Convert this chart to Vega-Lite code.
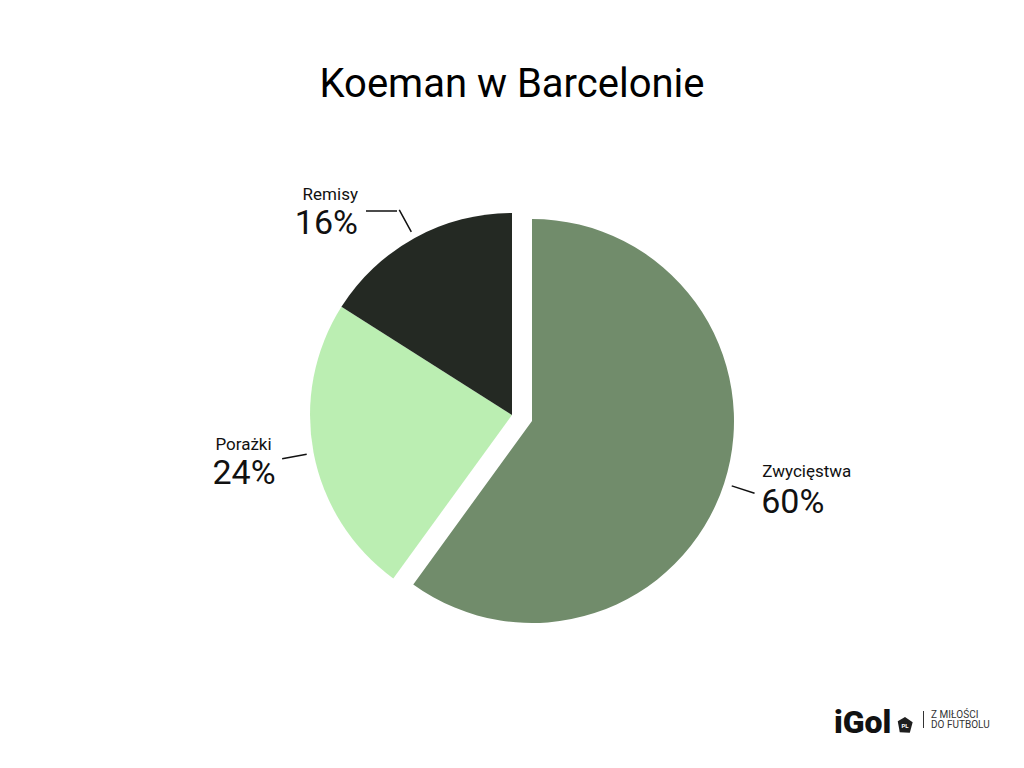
{
  "$schema": "https://vega.github.io/schema/vega-lite/v6.json",
  "width": 1024,
  "height": 768,
  "padding": 0,
  "autosize": {"type": "none"},
  "background": "#ffffff",
  "config": {"view": {"stroke": null}, "font": "Roboto"},
  "title": {"text": "Koeman w Barcelonie", "fontSize": 40, "font": "Roboto", "fontWeight": "normal", "color": "#000000", "anchor": "middle", "frame": "group", "offset": -105},
  "data": {"values": [
    {"wynik": "Zwycięstwa", "udzial": 0.60, "kolejnosc": 1},
    {"wynik": "Porażki", "udzial": 0.24, "kolejnosc": 2},
    {"wynik": "Remisy", "udzial": 0.16, "kolejnosc": 3}
  ]},
  "layer": [
    {
      "mark": {"type": "arc", "outerRadius": 202, "yOffset": 31},
      "encoding": {
        "theta": {"field": "udzial", "type": "quantitative", "stack": true},
        "order": {"field": "kolejnosc", "type": "quantitative"},
        "color": {"field": "wynik", "type": "nominal", "scale": {"domain": ["Zwycięstwa", "Porażki", "Remisy"], "range": ["#718c6b", "#bbeeb2", "#242923"]}, "legend": null},
        "opacity": {"condition": {"test": "datum.wynik !== 'Zwycięstwa'", "value": 1}, "value": 0}
      }
    },
    {
      "mark": {"type": "arc", "outerRadius": 202, "xOffset": 20, "yOffset": 37},
      "encoding": {
        "theta": {"field": "udzial", "type": "quantitative", "stack": true},
        "order": {"field": "kolejnosc", "type": "quantitative"},
        "color": {"field": "wynik", "type": "nominal", "legend": null},
        "opacity": {"condition": {"test": "datum.wynik === 'Zwycięstwa'", "value": 1}, "value": 0}
      }
    },
    {
      "mark": {"type": "arc", "filled": false, "stroke": "#111111", "strokeWidth": 1.5, "theta": 1.884956, "theta2": 1.884956, "innerRadius": 210, "outerRadius": 234, "xOffset": 20, "yOffset": 37},
      "encoding": {
        "opacity": {"condition": {"test": "datum.wynik === 'Zwycięstwa'", "value": 1}, "value": 0}
      }
    },
    {
      "mark": {"type": "arc", "filled": false, "stroke": "#111111", "strokeWidth": 1.5, "innerRadius": 209, "outerRadius": 234, "padAngle": 3.14, "yOffset": 31},
      "encoding": {
        "theta": {"field": "udzial", "type": "quantitative", "stack": true},
        "order": {"field": "kolejnosc", "type": "quantitative"},
        "opacity": {"condition": {"test": "datum.wynik !== 'Zwycięstwa'", "value": 1}, "value": 0}
      }
    },
    {
      "mark": {"type": "arc", "filled": false, "stroke": "#111111", "strokeWidth": 1.5, "theta": 4.712389, "theta2": 4.712389, "innerRadius": 0, "outerRadius": 31, "xOffset": -115, "yOffset": -173},
      "encoding": {
        "opacity": {"condition": {"test": "datum.wynik === 'Remisy'", "value": 1}, "value": 0}
      }
    },
    {
      "mark": {"type": "text", "radius": 250, "align": "left", "baseline": "alphabetic", "fontSize": 17, "color": "#111111", "dx": 12.5, "dy": -14.8, "yOffset": 31},
      "encoding": {
        "theta": {"field": "udzial", "type": "quantitative", "stack": true},
        "order": {"field": "kolejnosc", "type": "quantitative"},
        "text": {"field": "wynik", "type": "nominal"},
        "opacity": {"condition": {"test": "datum.wynik === 'Zwycięstwa'", "value": 1}, "value": 0}
      }
    },
    {
      "mark": {"type": "text", "radius": 250, "align": "left", "baseline": "alphabetic", "fontSize": 34, "color": "#111111", "dx": 11.5, "dy": 21, "yOffset": 31},
      "encoding": {
        "theta": {"field": "udzial", "type": "quantitative", "stack": true},
        "order": {"field": "kolejnosc", "type": "quantitative"},
        "text": {"field": "udzial", "type": "quantitative", "format": ".0%"},
        "opacity": {"condition": {"test": "datum.wynik === 'Zwycięstwa'", "value": 1}, "value": 0}
      }
    },
    {
      "mark": {"type": "text", "radius": 250, "align": "center", "baseline": "alphabetic", "fontSize": 17, "color": "#111111", "dx": -22.9, "dy": -12.3, "yOffset": 31},
      "encoding": {
        "theta": {"field": "udzial", "type": "quantitative", "stack": true},
        "order": {"field": "kolejnosc", "type": "quantitative"},
        "text": {"field": "wynik", "type": "nominal"},
        "opacity": {"condition": {"test": "datum.wynik === 'Porażki'", "value": 1}, "value": 0}
      }
    },
    {
      "mark": {"type": "text", "radius": 250, "align": "center", "baseline": "alphabetic", "fontSize": 34, "color": "#111111", "dx": -22.4, "dy": 22.5, "yOffset": 31},
      "encoding": {
        "theta": {"field": "udzial", "type": "quantitative", "stack": true},
        "order": {"field": "kolejnosc", "type": "quantitative"},
        "text": {"field": "udzial", "type": "quantitative", "format": ".0%"},
        "opacity": {"condition": {"test": "datum.wynik === 'Porażki'", "value": 1}, "value": 0}
      }
    },
    {
      "mark": {"type": "text", "radius": 250, "align": "right", "baseline": "alphabetic", "fontSize": 17, "color": "#111111", "dx": -33.6, "dy": 3.6, "yOffset": 31},
      "encoding": {
        "theta": {"field": "udzial", "type": "quantitative", "stack": true},
        "order": {"field": "kolejnosc", "type": "quantitative"},
        "text": {"field": "wynik", "type": "nominal"},
        "opacity": {"condition": {"test": "datum.wynik === 'Remisy'", "value": 1}, "value": 0}
      }
    },
    {
      "mark": {"type": "text", "radius": 250, "align": "right", "baseline": "alphabetic", "fontSize": 34, "color": "#111111", "dx": -33.6, "dy": 38.1, "yOffset": 31},
      "encoding": {
        "theta": {"field": "udzial", "type": "quantitative", "stack": true},
        "order": {"field": "kolejnosc", "type": "quantitative"},
        "text": {"field": "udzial", "type": "quantitative", "format": ".0%"},
        "opacity": {"condition": {"test": "datum.wynik === 'Remisy'", "value": 1}, "value": 0}
      }
    },
    {
      "data": {"values": [{"znak": "iGol"}]},
      "mark": {"type": "text", "align": "left", "baseline": "alphabetic", "fontSize": 32, "fontWeight": 900, "font": "Roboto", "color": "#111111"},
      "encoding": {"text": {"field": "znak"}, "x": {"value": 834}, "y": {"value": 733}}
    },
    {
      "data": {"values": [{"znak": "PL"}]},
      "mark": {"type": "point", "shape": "M-0.9,-0.45 L0,-1 L0.95,-0.35 L0.6,0.95 L-0.65,0.9 Z", "size": 260, "filled": true, "color": "#1e1e1e", "opacity": 1},
      "encoding": {"x": {"value": 905}, "y": {"value": 725}}
    },
    {
      "data": {"values": [{"znak": "PL"}]},
      "mark": {"type": "text", "align": "center", "baseline": "middle", "fontSize": 6, "fontWeight": "bold", "color": "#ffffff"},
      "encoding": {"text": {"field": "znak"}, "x": {"value": 905}, "y": {"value": 726}}
    },
    {
      "data": {"values": [{"znak": "|"}]},
      "mark": {"type": "rule", "color": "#333333", "strokeWidth": 1},
      "encoding": {"x": {"value": 923.5}, "y": {"value": 711}, "y2": {"value": 728}}
    },
    {
      "data": {"values": [{"znak": "Z MIŁOŚCI"}]},
      "mark": {"type": "text", "align": "left", "baseline": "alphabetic", "fontSize": 10, "color": "#333333", "font": "Roboto"},
      "encoding": {"text": {"field": "znak"}, "x": {"value": 931}, "y": {"value": 717.5}}
    },
    {
      "data": {"values": [{"znak": "DO FUTBOLU"}]},
      "mark": {"type": "text", "align": "left", "baseline": "alphabetic", "fontSize": 10, "color": "#333333", "font": "Roboto"},
      "encoding": {"text": {"field": "znak"}, "x": {"value": 931}, "y": {"value": 728}}
    }
  ]
}
